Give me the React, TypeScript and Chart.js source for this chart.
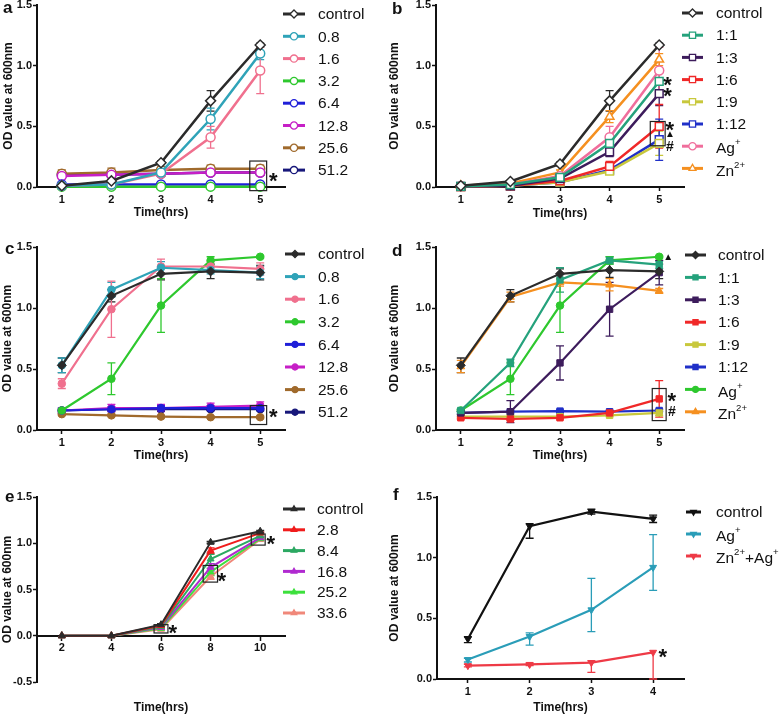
import React, { useEffect, useRef } from 'react';
import { Chart, registerables } from 'chart.js';

Chart.register(...registerables);

const FONT = 'Arial, "Liberation Sans", Helvetica, sans-serif';

// ---------------- data ----------------
// Panel a
const aX = [1, 2, 3, 4, 5];
const aLabels = ['control', '0.8', '1.6', '3.2', '6.4', '12.8', '25.6', '51.2'];
const aMeans = [
  [0.01, 0.05, 0.2, 0.71, 1.17],
  [0.01, 0.02, 0.12, 0.56, 1.1],
  [0.01, 0.02, 0.11, 0.41, 0.96],
  [0.003, 0.003, 0.003, 0.003, 0.003],
  [0.02, 0.02, 0.02, 0.02, 0.02],
  [0.09, 0.1, 0.11, 0.12, 0.12],
  [0.11, 0.12, 0.14, 0.15, 0.15],
  [0.1, 0.1, 0.11, 0.12, 0.12],
];
const aErrs = [
  [0.005, 0.01, 0.015, 0.085, 0.015],
  [0.005, 0.01, 0.01, 0.09, 0.05],
  [0.005, 0.01, 0.01, 0.09, 0.19],
  [0, 0, 0, 0, 0],
  [0.005, 0.005, 0.005, 0.005, 0.005],
  [0.02, 0.02, 0.01, 0.02, 0.02],
  [0.03, 0.035, 0.025, 0.03, 0.03],
  [0.01, 0.01, 0.01, 0.01, 0.01],
];

// Panel b
const bX = [1, 2, 3, 4, 5];
const bLabels = ['control', '1:1', '1:3', '1:6', '1:9', '1:12', 'Ag⁺', 'Zn²⁺'];
const bMeans = [
  [0.01, 0.045, 0.19, 0.71, 1.17],
  [0.005, 0.02, 0.08, 0.36, 0.87],
  [0.005, 0.01, 0.07, 0.29, 0.77],
  [0.003, 0.01, 0.05, 0.17, 0.5],
  [0.003, 0.01, 0.04, 0.13, 0.36],
  [0.003, 0.01, 0.04, 0.14, 0.39],
  [0.008, 0.02, 0.09, 0.41, 0.96],
  [0.01, 0.03, 0.12, 0.58, 1.05],
];
const bErrs = [
  [0.005, 0.01, 0.015, 0.085, 0.015],
  [0.003, 0.005, 0.01, 0.05, 0.08],
  [0.003, 0.005, 0.01, 0.04, 0.1],
  [0.003, 0.005, 0.01, 0.04, 0.18],
  [0.003, 0.005, 0.01, 0.02, 0.1],
  [0.003, 0.005, 0.01, 0.02, 0.17],
  [0.003, 0.005, 0.01, 0.09, 0.19],
  [0.003, 0.01, 0.02, 0.05, 0.05],
];

// Panel c
const cX = [1, 2, 3, 4, 5];
const cLabels = ['control', '0.8', '1.6', '3.2', '6.4', '12.8', '25.6', '51.2'];
const cMeans = [
  [0.53, 1.1, 1.28, 1.3, 1.29],
  [0.53, 1.15, 1.33, 1.31, 1.29],
  [0.38, 0.99, 1.34, 1.34, 1.32],
  [0.16, 0.42, 1.02, 1.39, 1.42],
  [0.16, 0.17, 0.18, 0.18, 0.18],
  [0.16, 0.18, 0.18, 0.19, 0.2],
  [0.13, 0.12, 0.11, 0.105, 0.105],
  [0.16, 0.17, 0.17, 0.17, 0.17],
];
const cErrs = [
  [0.06, 0.05, 0.05, 0.06, 0.06],
  [0.06, 0.06, 0.05, 0.03, 0.05],
  [0.04, 0.23, 0.06, 0.04, 0.05],
  [0.01, 0.13, 0.22, 0.03, 0.01],
  [0.02, 0.02, 0.02, 0.02, 0.02],
  [0.02, 0.03, 0.03, 0.03, 0.03],
  [0.01, 0.01, 0.01, 0.01, 0.01],
  [0.01, 0.01, 0.01, 0.01, 0.01],
];

// Panel d
const dX = [1, 2, 3, 4, 5];
const dLabels = ['control', '1:1', '1:3', '1:6', '1:9', '1:12', 'Ag⁺', 'Zn²⁺'];
const dMeans = [
  [0.53, 1.1, 1.28, 1.31, 1.3],
  [0.16, 0.55, 1.23, 1.39, 1.355],
  [0.14, 0.15, 0.55, 0.99, 1.29],
  [0.1, 0.09, 0.1, 0.14, 0.255],
  [0.11, 0.11, 0.11, 0.12, 0.14],
  [0.14, 0.15, 0.155, 0.15, 0.16],
  [0.16, 0.42, 1.02, 1.39, 1.42],
  [0.52, 1.09, 1.21, 1.19, 1.14],
];
const dErrs = [
  [0.06, 0.05, 0.04, 0.06, 0.06],
  [0.01, 0.03, 0.1, 0.03, 0.03],
  [0.01, 0.09, 0.14, 0.22, 0.1],
  [0.01, 0.01, 0.01, 0.01, 0.15],
  [0.01, 0.01, 0.01, 0.01, 0.02],
  [0.01, 0.01, 0.01, 0.01, 0.01],
  [0.01, 0.13, 0.22, 0.03, 0.01],
  [0.05, 0.04, 0.03, 0.05, 0.02],
];

// Panel e
const eX = [2, 4, 6, 8, 10];
const eLabels = ['control', '2.8', '8.4', '16.8', '25.2', '33.6'];
const eMeans = [
  [0, 0, 0.12, 1.01, 1.13],
  [0, 0, 0.11, 0.92, 1.11],
  [0, 0, 0.1, 0.83, 1.08],
  [0, 0, 0.09, 0.74, 1.06],
  [0, 0, 0.08, 0.69, 1.05],
  [0, 0, 0.07, 0.64, 1.04],
];
const eErrs = [
  [0, 0, 0.01, 0.01, 0.01],
  [0, 0, 0.01, 0.03, 0.01],
  [0, 0, 0.01, 0.05, 0.01],
  [0, 0, 0.01, 0.04, 0.01],
  [0, 0, 0.01, 0.04, 0.01],
  [0, 0, 0.01, 0.03, 0.01],
];

// Panel f
const fX = [1, 2, 3, 4];
const fLabels = ['control', 'Ag⁺', 'Zn²⁺+Ag⁺'];
const fMeans = [
  [0.33, 1.26, 1.38, 1.32],
  [0.16, 0.35, 0.57, 0.92],
  [0.11, 0.12, 0.135, 0.22],
];
const fErrsLow = [
  [0.03, 0.1, 0.02, 0.03],
  [0.02, 0.07, 0.18, 0.19],
  [0.01, 0.01, 0.08, 0.22],
];
const fErrsHigh = [
  [0.02, 0.02, 0.02, 0.03],
  [0.01, 0.03, 0.26, 0.27],
  [0.01, 0.01, 0.015, 0],
];

// axis ticks
const ticks1to5 = [1, 2, 3, 4, 5];
const ticksE = [2, 4, 6, 8, 10];
const ticksF = [1, 2, 3, 4];
const yTicksMain = [0, 0.5, 1, 1.5];
const yTicksE = [-0.5, 0, 0.5, 1, 1.5];
const yTitle = 'OD value at 600nm';
const xTitle = 'Time(hrs)';

// ---------------- styles ----------------
const aColors = ['#2b2b2b', '#2fa3b8', '#f0708e', '#2ec82e', '#1f1fd8', '#c61fc6', '#a06a2c', '#17177a'];
const bColors = ['#2b2b2b', '#25a27c', '#3d1c5c', '#f02828', '#c8c83c', '#2030c8', '#f06e9c', '#f59020'];
const dColors = ['#2b2b2b', '#25a27c', '#3d1c5c', '#f02828', '#c8c83c', '#2030c8', '#2ec82e', '#f59020'];
const eColors = ['#2b2b2b', '#f01c1c', '#2ca862', '#b02ad0', '#3ce03c', '#f0887a'];
const fColors = ['#111111', '#2a9db8', '#ee3a46'];

const aStyles = ['rectRot', 'circle', 'circle', 'circle', 'circle', 'circle', 'circle', 'circle'];
const bStyles = ['rectRot', 'rect', 'rect', 'rect', 'rect', 'rect', 'circle', 'triangle'];

type Mark = { x: number; y: number; t: string; size: number };
type Panel = any;

const panels: Panel[] = [
  {
    letter: 'a', left: 0, top: 0, w: 386, h: 230,
    xs: aX, labels: aLabels, means: aMeans, errLo: aErrs, errHi: aErrs, colors: aColors, styles: aStyles,
    filled: false, rotation: 0, radius: [5, 4.5, 4.5, 4.5, 4.5, 4.5, 4.5, 4.5], lineWidth: 2.5,
    xMin: 0.5, xMax: 5.5, xTicks: ticks1to5, yMin: 0, yMax: 1.5, yTicks: yTicksMain,
    yAxisW: 37, padTop: 5, padRight: 101, xAxisH: 43, padBottom: 0, xAtZero: false,
    letterPos: [3, 8], yTitleX: 9, xTitleY: 213,
    legend: { x0: 283, x1: 305, tx: 318, y0: 14, dy: 22.3 },
    boxes: [[4.79, 5.13, -0.03, 0.214]],
    marks: [{ x: 5.27, y: 0.08, t: '*', size: 22 }],
  },
  {
    letter: 'b', left: 386, top: 0, w: 398, h: 230,
    xs: bX, labels: bLabels, means: bMeans, errLo: bErrs, errHi: bErrs, colors: bColors, styles: bStyles,
    filled: false, rotation: 0, radius: [5, 5.5, 5.5, 5.5, 5.5, 5.5, 4.5, 5], lineWidth: 2.5,
    xMin: 0.5, xMax: 5.5, xTicks: ticks1to5, yMin: 0, yMax: 1.5, yTicks: yTicksMain,
    yAxisW: 50, padTop: 5, padRight: 100, xAxisH: 43, padBottom: 0, xAtZero: false,
    letterPos: [392, 8], yTitleX: 395, xTitleY: 214,
    legend: { x0: 682, x1: 703, tx: 716, y0: 13, dy: 22.2 },
    boxes: [[4.82, 5.12, 0.34, 0.54]],
    marks: [
      { x: 5.17, y: 0.87, t: '*', size: 22 },
      { x: 5.17, y: 0.775, t: '*', size: 22 },
      { x: 5.22, y: 0.5, t: '*', size: 22 },
      { x: 5.22, y: 0.437, t: '▲', size: 10 },
      { x: 5.22, y: 0.34, t: '#', size: 14 },
    ],
  },
  {
    letter: 'c', left: 0, top: 230, w: 386, h: 240,
    xs: cX, labels: cLabels, means: cMeans, errLo: cErrs, errHi: cErrs, colors: aColors, styles: aStyles,
    filled: true, rotation: 0, radius: [4.5, 3.8, 3.8, 3.8, 3.8, 3.8, 3.8, 3.8], lineWidth: 2.2,
    xMin: 0.5, xMax: 5.5, xTicks: ticks1to5, yMin: 0, yMax: 1.5, yTicks: yTicksMain,
    yAxisW: 37, padTop: 17, padRight: 101, xAxisH: 40, padBottom: 0, xAtZero: false,
    letterPos: [5, 249], yTitleX: 8, xTitleY: 456,
    legend: { x0: 285, x1: 305, tx: 318, y0: 254, dy: 22.6 },
    boxes: [[4.8, 5.13, 0.045, 0.2]],
    marks: [{ x: 5.27, y: 0.135, t: '*', size: 22 }],
  },
  {
    letter: 'd', left: 386, top: 230, w: 398, h: 240,
    xs: dX, labels: dLabels, means: dMeans, errLo: dErrs, errHi: dErrs, colors: dColors, styles: bStyles,
    filled: true, rotation: 0, radius: [4.5, 4.5, 4.5, 4.5, 4.5, 4.5, 3.8, 4.5], lineWidth: 2.2,
    xMin: 0.5, xMax: 5.5, xTicks: ticks1to5, yMin: 0, yMax: 1.5, yTicks: yTicksMain,
    yAxisW: 50, padTop: 17, padRight: 100, xAxisH: 40, padBottom: 0, xAtZero: false,
    letterPos: [392, 250], yTitleX: 395, xTitleY: 456,
    legend: { x0: 685, x1: 706, tx: 718, y0: 255, dy: 22.4 },
    boxes: [[4.86, 5.14, 0.077, 0.34]],
    marks: [
      { x: 5.26, y: 0.27, t: '*', size: 22 },
      { x: 5.26, y: 0.155, t: '#', size: 14 },
      { x: 5.18, y: 1.42, t: '▲', size: 10 },
    ],
  },
  {
    letter: 'e', left: 0, top: 470, w: 386, h: 246,
    xs: eX, labels: eLabels, means: eMeans, errLo: eErrs, errHi: eErrs, colors: eColors,
    styles: ['triangle', 'triangle', 'triangle', 'triangle', 'triangle', 'triangle'],
    filled: true, rotation: 0, radius: [4, 4, 4, 4, 4, 4], lineWidth: 2,
    xMin: 1, xMax: 11, xTicks: ticksE, yMin: -0.5, yMax: 1.5, yTicks: yTicksE,
    yAxisW: 37, padTop: 27, padRight: 101, xAxisH: 0, padBottom: 34, xAtZero: true,
    letterPos: [5, 497], yTitleX: 8, xTitleY: 708,
    legend: { x0: 283, x1: 305, tx: 317, y0: 509, dy: 20.8 },
    boxes: [[5.72, 6.28, 0.03, 0.12], [7.7, 8.28, 0.58, 0.76], [9.64, 10.2, 0.98, 1.1]],
    marks: [
      { x: 6.48, y: 0.07, t: '*', size: 22 },
      { x: 8.46, y: 0.63, t: '*', size: 22 },
      { x: 10.44, y: 1.03, t: '*', size: 22 },
    ],
  },
  {
    letter: 'f', left: 386, top: 470, w: 398, h: 246,
    xs: fX, labels: fLabels, means: fMeans, errLo: fErrsLow, errHi: fErrsHigh, colors: fColors,
    styles: ['triangle', 'triangle', 'triangle'],
    filled: true, rotation: 180, radius: [4, 4, 4], lineWidth: 2.2,
    xMin: 0.5, xMax: 4.5, xTicks: ticksF, yMin: 0, yMax: 1.5, yTicks: yTicksMain,
    yAxisW: 51, padTop: 27, padRight: 100, xAxisH: 37, padBottom: 0, xAtZero: false,
    letterPos: [393, 494], yTitleX: 395, xTitleY: 708,
    legend: { x0: 686, x1: 701, tx: 716, y0: 512, dy: 22 },
    boxes: [],
    marks: [{ x: 4.16, y: 0.21, t: '*', size: 22 }],
  },
];

// ---------------- drawing helpers ----------------
const SUP: Record<string, string> = { '⁺': '+', '²': '2' };

function drawRich(ctx: CanvasRenderingContext2D, text: string, x: number, y: number, size: number) {
  let cx = x;
  let run = '';
  const flush = () => {
    if (!run) return;
    ctx.font = `${size}px ${FONT}`;
    ctx.fillText(run, cx, y);
    cx += ctx.measureText(run).width;
    run = '';
  };
  for (const ch of text) {
    if (SUP[ch]) {
      flush();
      ctx.font = `${size * 0.62}px ${FONT}`;
      ctx.fillText(SUP[ch], cx, y - size * 0.42);
      cx += ctx.measureText(SUP[ch]).width;
    } else {
      run += ch;
    }
  }
  flush();
}

function drawMarker(ctx: CanvasRenderingContext2D, style: string, x: number, y: number, r: number, rot: number, fill: string, stroke: string, lw: number) {
  ctx.save();
  ctx.translate(x, y);
  ctx.rotate((rot * Math.PI) / 180);
  ctx.beginPath();
  if (style === 'circle') {
    ctx.arc(0, 0, r, 0, Math.PI * 2);
  } else if (style === 'rect') {
    const s = r * Math.SQRT1_2;
    ctx.rect(-s, -s, 2 * s, 2 * s);
  } else if (style === 'rectRot') {
    ctx.moveTo(0, -r);
    ctx.lineTo(r, 0);
    ctx.lineTo(0, r);
    ctx.lineTo(-r, 0);
    ctx.closePath();
  } else {
    ctx.moveTo(0, -r);
    ctx.lineTo(r * 0.866, r * 0.5);
    ctx.lineTo(-r * 0.866, r * 0.5);
    ctx.closePath();
  }
  ctx.fillStyle = fill;
  ctx.fill();
  ctx.strokeStyle = stroke;
  ctx.lineWidth = lw;
  ctx.stroke();
  ctx.restore();
}

function drawCentered(ctx: CanvasRenderingContext2D, t: string, x: number, y: number, font: string) {
  ctx.font = font;
  ctx.textAlign = 'left';
  ctx.textBaseline = 'alphabetic';
  const m = ctx.measureText(t);
  const asc = m.actualBoundingBoxAscent;
  const desc = m.actualBoundingBoxDescent;
  const l = m.actualBoundingBoxLeft;
  const r = m.actualBoundingBoxRight;
  ctx.fillText(t, x - (r - l) / 2, y + (asc - desc) / 2);
}

function makeDecor(p: Panel) {
  return {
    id: 'decor_' + p.letter,
    beforeDatasetsDraw(chart: any) {
      const ctx: CanvasRenderingContext2D = chart.ctx;
      const xs = chart.scales.x;
      const ys = chart.scales.y;
      ctx.save();
      chart.data.datasets.forEach((ds: any, i: number) => {
        const lo = p.errLo[i];
        const hi = p.errHi[i];
        ds.data.forEach((pt: any, j: number) => {
          const el = lo[j];
          const eh = hi[j];
          if (!el && !eh) return;
          const px = xs.getPixelForValue(pt.x);
          const y1 = ys.getPixelForValue(pt.y - el);
          const y2 = ys.getPixelForValue(pt.y + eh);
          ctx.strokeStyle = ds.borderColor;
          ctx.lineWidth = 1.3;
          ctx.beginPath();
          ctx.moveTo(px, y1);
          ctx.lineTo(px, y2);
          if (el) {
            ctx.moveTo(px - 4, y1);
            ctx.lineTo(px + 4, y1);
          }
          if (eh) {
            ctx.moveTo(px - 4, y2);
            ctx.lineTo(px + 4, y2);
          }
          ctx.stroke();
        });
      });
      ctx.restore();
    },
    afterDraw(chart: any) {
      const ctx: CanvasRenderingContext2D = chart.ctx;
      const xs = chart.scales.x;
      const ys = chart.scales.y;
      const area = chart.chartArea;
      const ox = p.left;
      const oy = p.top;
      ctx.save();
      ctx.fillStyle = '#111';

      // panel letter
      ctx.font = `bold 17px ${FONT}`;
      ctx.textAlign = 'left';
      ctx.textBaseline = 'alphabetic';
      {
        const m = ctx.measureText(p.letter);
        const asc = m.actualBoundingBoxAscent;
        const desc = m.actualBoundingBoxDescent;
        ctx.fillText(p.letter, p.letterPos[0] - ox, p.letterPos[1] - oy + (asc - desc) / 2);
      }

      // y title
      ctx.save();
      ctx.translate(p.yTitleX - ox, (area.top + area.bottom) / 2);
      ctx.rotate(-Math.PI / 2);
      ctx.font = `bold 12px ${FONT}`;
      ctx.textAlign = 'center';
      ctx.textBaseline = 'middle';
      ctx.fillText(yTitle, 0, 0);
      ctx.restore();

      // x title
      ctx.font = `bold 12px ${FONT}`;
      ctx.textAlign = 'center';
      ctx.textBaseline = 'middle';
      ctx.fillText(xTitle, (area.left + area.right) / 2, p.xTitleY - oy);

      // legend
      const lg = p.legend;
      p.labels.forEach((lab: string, i: number) => {
        const y = lg.y0 + i * lg.dy - oy;
        const col = p.colors[i];
        ctx.strokeStyle = col;
        ctx.lineWidth = 3;
        ctx.beginPath();
        ctx.moveTo(lg.x0 - ox, y);
        ctx.lineTo(lg.x1 - ox, y);
        ctx.stroke();
        drawMarker(ctx, p.styles[i], (lg.x0 + lg.x1) / 2 - ox, y, p.radius[i] * 0.8, p.rotation,
          p.filled ? col : '#ffffff', col, 1.3);
        ctx.fillStyle = '#111';
        ctx.textAlign = 'left';
        ctx.textBaseline = 'middle';
        const hasSup = /[⁺²]/.test(lab);
        drawRich(ctx, lab, lg.tx - ox, y + 1 + (hasSup ? 2 : 0), 15.5);
      });

      // boxes
      ctx.strokeStyle = '#222';
      ctx.lineWidth = 1.2;
      p.boxes.forEach((b: number[]) => {
        const x0 = xs.getPixelForValue(b[0]);
        const x1 = xs.getPixelForValue(b[1]);
        const y0 = ys.getPixelForValue(b[2]);
        const y1 = ys.getPixelForValue(b[3]);
        ctx.strokeRect(x0, y1, x1 - x0, y0 - y1);
      });

      // significance marks
      ctx.fillStyle = '#111';
      p.marks.forEach((mk: Mark) => {
        const px = xs.getPixelForValue(mk.x);
        const py = ys.getPixelForValue(mk.y);
        drawCentered(ctx, mk.t, px, py, `bold ${mk.size}px ${FONT}`);
      });
      ctx.restore();
    },
  };
}

function PanelChart({ p }: { p: Panel }) {
  const ref = useRef<HTMLCanvasElement | null>(null);
  useEffect(() => {
    const canvas = ref.current;
    if (!canvas) return;
    const tickFont = { family: FONT, size: 11, weight: 'bold' as const };
    const zeroPad = (s: any) => {
      s.paddingLeft = 0;
      s.paddingRight = 0;
      s.paddingTop = 0;
      s.paddingBottom = 0;
    };
    const chart = new Chart(canvas, {
      type: 'line',
      data: {
        datasets: p.labels.map((lab: string, i: number) => ({
          label: lab,
          data: p.xs.map((x: number, j: number) => ({ x, y: p.means[i][j] })),
          borderColor: p.colors[i],
          backgroundColor: p.colors[i],
          borderWidth: p.lineWidth,
          pointStyle: p.styles[i],
          pointRadius: p.radius[i],
          pointRotation: p.rotation,
          pointBackgroundColor: p.filled ? p.colors[i] : '#ffffff',
          pointBorderColor: p.colors[i],
          pointBorderWidth: p.filled ? 1 : 1.5,
          tension: 0,
          clip: false,
        })),
      },
      options: {
        responsive: false,
        animation: false,
        events: [],
        layout: {
          autoPadding: false,
          padding: { top: p.padTop, right: p.padRight, bottom: p.padBottom, left: 0 },
        },
        plugins: { legend: { display: false }, tooltip: { enabled: false } },
        scales: {
          x: {
            type: 'linear',
            min: p.xMin,
            max: p.xMax,
            position: p.xAtZero ? { y: 0 } : 'bottom',
            afterBuildTicks: (s: any) => {
              s.ticks = p.xTicks.map((v: number) => ({ value: v }));
            },
            afterFit: (s: any) => {
              if (!p.xAtZero) s.height = p.xAxisH;
              zeroPad(s);
            },
            grid: { display: true, drawOnChartArea: false, drawTicks: true, tickLength: 4, tickWidth: 1.5, tickColor: '#111' },
            border: { display: true, color: '#111', width: 2 },
            ticks: {
              font: tickFont, color: '#111', padding: 2, maxRotation: 0, autoSkip: false,
              callback: (v: any) => String(v),
            },
          },
          y: {
            type: 'linear',
            min: p.yMin,
            max: p.yMax,
            position: 'left',
            afterBuildTicks: (s: any) => {
              s.ticks = p.yTicks.map((v: number) => ({ value: v }));
            },
            afterFit: (s: any) => {
              s.width = p.yAxisW;
              zeroPad(s);
            },
            grid: { display: true, drawOnChartArea: false, drawTicks: true, tickLength: 4, tickWidth: 1.5, tickColor: '#111' },
            border: { display: true, color: '#111', width: 2 },
            ticks: {
              font: tickFont, color: '#111', padding: 1,
              callback: (v: any) => Number(v).toFixed(1),
            },
          },
        },
      } as any,
      plugins: [makeDecor(p)],
    });
    return () => chart.destroy();
  }, [p]);
  return (
    <canvas
      ref={ref}
      width={p.w}
      height={p.h}
      style={{ position: 'absolute', left: p.left, top: p.top, width: p.w, height: p.h, display: 'block' }}
    />
  );
}

export default function App() {
  return (
    <div style={{ position: 'absolute', left: 0, top: 0, width: 784, height: 716, background: '#ffffff', overflow: 'hidden' }}>
      {panels.map((p) => (
        <PanelChart key={p.letter} p={p} />
      ))}
    </div>
  );
}
